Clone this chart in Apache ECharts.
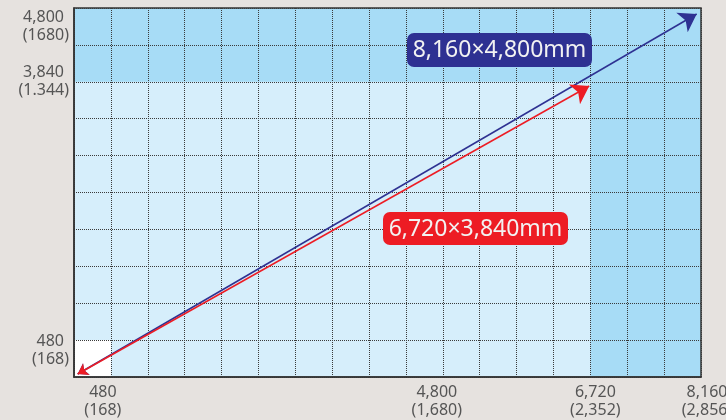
<!DOCTYPE html>
<html>
<head>
<meta charset="utf-8">
<script src="https://cdn.jsdelivr.net/npm/echarts@6/dist/echarts.min.js"></script>
<style>
html,body{margin:0;padding:0;background:#e6e2df;}
#c{width:726px;height:420px;}
</style>
</head>
<body>
<div id="c"></div>
<script>
// ---- data ----
const xMax = 8160;
const yMax = 4800;
const step = 480;
const xTickValues = [480, 4800, 6720, 8160];
const xTickLine1 = ['480', '4,800', '6,720', '8,160'];
const xTickLine2 = ['(168)', '(1,680)', '(2,352)', '(2,856)'];
const yTickValues = [480, 3840, 4800];
const yTickLine1 = ['480', '3,840', '4,800'];
const yTickLine2 = ['(168)', '(1.344)', '(1680)'];
const sizeLabels = ['8,160×4,800mm', '6,720×3,840mm'];
const blueLine = [[48, 39], [8104, 4722]];
const redLine = [[48, 39], [6706, 3785]];
const darkZones = [[[0, 3840], [8160, 4800]], [[6720, 0], [8160, 3840]]];
const whiteZone = [[0, 0], [480, 480]];

// ---- styling (label nudges in px) ----
const xShift = [-8, -6, 5, 6];
const yShift = [10, 0, 18];
const LIGHT = '#d6eefb', DARK = '#a7dcf6';
const FONT = 'Noto Sans';

const xRich = {};
xTickValues.forEach((v, i) => {
  const s = xShift[i];
  const pad = s >= 0 ? [0, 0, 0, 2 * s] : [0, -2 * s, 0, 0];
  xRich['x' + i] = { padding: pad, lineHeight: 17.5, fontSize: 16, color: '#555', fontFamily: FONT };
});
const yRich = {
  a: { padding: [0, 5, 0, 0], lineHeight: 18, fontSize: 16, color: '#555', fontFamily: FONT },
  b: { lineHeight: 18, fontSize: 16, color: '#555', fontFamily: FONT }
};
yTickValues.forEach((v, i) => {
  yRich['p' + i] = { lineHeight: Math.max(1, 2 * yShift[i]), fontSize: 1 };
});

const markData = [[{ coord: [0, 0], itemStyle: { color: LIGHT } }, { coord: [xMax, yMax] }]];
darkZones.forEach(z => markData.push([{ coord: z[0], itemStyle: { color: DARK } }, { coord: z[1] }]));
markData.push([{ coord: whiteZone[0], itemStyle: { color: '#ffffff' } }, { coord: whiteZone[1] }]);

const chart = echarts.init(document.getElementById('c'), null, { renderer: 'canvas' });
chart.setOption({
  backgroundColor: '#e6e2df',
  animation: false,
  grid: { left: 74, right: 25, top: 8, bottom: 43, show: true, backgroundColor: 'transparent',
          borderColor: '#333', borderWidth: 1.5, z: 5, containLabel: false, outerBoundsMode: 'none' },
  xAxis: {
    type: 'value', min: 0, max: xMax, interval: step, z: 6,
    axisLine: { show: true, lineStyle: { color: '#333', width: 1.5 } },
    axisTick: { show: false },
    splitLine: { show: true, lineStyle: { color: '#3a3a3a', type: [1, 1], width: 1 } },
    axisLabel: {
      margin: 7, verticalAlign: 'top', showMinLabel: true, showMaxLabel: true, hideOverlap: false,
      formatter: v => {
        const i = xTickValues.indexOf(v);
        if (i < 0) return '';
        return '{x' + i + '|' + xTickLine1[i] + '}\n{x' + i + '|' + xTickLine2[i] + '}';
      },
      rich: xRich
    }
  },
  yAxis: {
    type: 'value', min: 0, max: yMax, interval: step, z: 6,
    axisLine: { show: true, lineStyle: { color: '#333', width: 1.5 } },
    axisTick: { show: false },
    splitLine: { show: true, lineStyle: { color: '#3a3a3a', type: [1, 1], width: 1 } },
    axisLabel: {
      margin: 5, showMinLabel: true, showMaxLabel: true, hideOverlap: false,
      formatter: v => {
        const i = yTickValues.indexOf(v);
        if (i < 0) return '';
        const pre = yShift[i] > 0 ? '{p' + i + '| }\n' : '';
        return pre + '{a|' + yTickLine1[i] + '}\n{b|' + yTickLine2[i] + '}';
      },
      rich: yRich
    }
  },
  series: [
    {
      type: 'line', data: [], z: 1, silent: true,
      markArea: { silent: true, data: markData }
    },
    {
      type: 'lines', coordinateSystem: 'cartesian2d', z: 20,
      symbol: ['arrow', 'arrow'], symbolSize: [10, 17],
      lineStyle: { color: '#2e3192', width: 1.5, opacity: 1 },
      data: [{ coords: blueLine }]
    },
    {
      type: 'lines', coordinateSystem: 'cartesian2d', z: 21,
      symbol: ['arrow', 'arrow'], symbolSize: [10, 17],
      lineStyle: { color: '#ed1c24', width: 1.5, opacity: 1 },
      data: [{ coords: redLine }]
    }
  ],
  graphic: [
    { type: 'rect', z: 30, shape: { x: 407, y: 33, width: 185, height: 34, r: 7 }, style: { fill: '#2e3192' } },
    { type: 'text', z: 31, x: 499.5, y: 50, style: { text: sizeLabels[0], fill: '#f2f2f2', font: '23px "Noto Sans"', align: 'center', verticalAlign: 'middle' } },
    { type: 'rect', z: 30, shape: { x: 383, y: 212, width: 185, height: 33, r: 7 }, style: { fill: '#ed1c24' } },
    { type: 'text', z: 31, x: 475.5, y: 229, style: { text: sizeLabels[1], fill: '#f2f2f2', font: '23px "Noto Sans"', align: 'center', verticalAlign: 'middle' } }
  ]
});
</script>
</body>
</html>
